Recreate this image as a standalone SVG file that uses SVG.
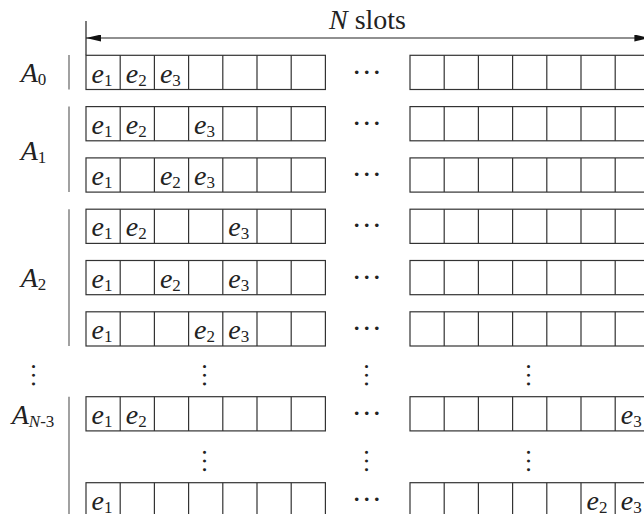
<svg xmlns="http://www.w3.org/2000/svg" xmlns:xlink="http://www.w3.org/1999/xlink" width="644" height="514" viewBox="0 0 644 514" font-family="'Liberation Serif', Tinos, 'Times New Roman', serif">
  <style>
    .cell { fill: none; stroke: #333; stroke-width: 1.2; }
    .bar { fill: none; stroke: #555; stroke-width: 1.1; }
    .dim { fill: none; stroke: #222; stroke-width: 1.2; }
    .t { font-family: 'Liberation Serif', Tinos, 'Times New Roman', serif; fill: #222; }
    .e { font-size: 28px; font-style: italic; }
    .lab { font-size: 28px; font-style: italic; text-anchor: middle; }
    .sub { font-size: 17px; font-style: normal; }
    .subi { font-size: 17px; font-style: italic; }
    .dots { font-size: 30px; text-anchor: middle; }
    .vdots { font-size: 26px; text-anchor: middle; }
    .title { font-size: 28px; text-anchor: middle; }
  </style>
  <defs>
    <!-- a strip of seven square slots, 34.2 px each -->
    <g id="strip">
      <rect class="cell" x="0" y="0" width="239.4" height="34.2"/>
      <path class="cell" d="M34.2,0V34.2M68.4,0V34.2M102.6,0V34.2M136.8,0V34.2M171,0V34.2M205.2,0V34.2"/>
    </g>
    <marker id="head" viewBox="0 0 15 7" markerWidth="15" markerHeight="7" refX="15" refY="3.5" orient="auto-start-reverse" markerUnits="userSpaceOnUse">
      <path d="M0,0L15,3.5L0,7z" fill="#111"/>
    </marker>
  </defs>

  <!-- N slots dimension -->
  <g id="connectors">
    <line class="dim" x1="86" y1="21" x2="86" y2="55.3"/>
    <line class="dim" x1="86" y1="38" x2="649.4" y2="38" marker-start="url(#head)" marker-end="url(#head)"/>
  </g>

  <g class="t">
  <g id="slots-label">
    <text class="title" x="367.5" y="29"><tspan font-style="italic">N</tspan> slots</text>
  </g>

  <!-- group brackets and labels -->
  <g id="label-A0">
    <line class="bar" x1="69" y1="55" x2="69" y2="89.5"/>
    <text class="lab" x="33.5" y="82">A<tspan class="sub" dy="3">0</tspan></text>
  </g>
  <g id="label-A1">
    <line class="bar" x1="69" y1="106.6" x2="69" y2="192"/>
    <text class="lab" x="33.5" y="160">A<tspan class="sub" dy="3">1</tspan></text>
  </g>
  <g id="label-A2">
    <line class="bar" x1="69" y1="209.2" x2="69" y2="346"/>
    <text class="lab" x="33.5" y="287">A<tspan class="sub" dy="3">2</tspan></text>
  </g>
  <g id="label-AN3">
    <line class="bar" x1="69" y1="396.7" x2="69" y2="520"/>
    <text class="lab" x="33" y="424">A<tspan class="subi" dy="3">N</tspan><tspan class="sub">-3</tspan></text>
  </g>

  <!-- row 0 -->
  <g id="row0">
    <use xlink:href="#strip" x="86" y="55.3"/>
    <use xlink:href="#strip" x="410" y="55.3"/>
    <text class="e" x="91.5" y="82.5">e<tspan class="sub" dy="3">1</tspan></text>
    <text class="e" x="125.7" y="82.5">e<tspan class="sub" dy="3">2</tspan></text>
    <text class="e" x="159.9" y="82.5">e<tspan class="sub" dy="3">3</tspan></text>
    <text class="dots" x="366.7" y="73.5">…</text>
  </g>
  <!-- row 1 -->
  <g id="row1">
    <use xlink:href="#strip" x="86" y="106.6"/>
    <use xlink:href="#strip" x="410" y="106.6"/>
    <text class="e" x="91.5" y="133.8">e<tspan class="sub" dy="3">1</tspan></text>
    <text class="e" x="125.7" y="133.8">e<tspan class="sub" dy="3">2</tspan></text>
    <text class="e" x="194.1" y="133.8">e<tspan class="sub" dy="3">3</tspan></text>
    <text class="dots" x="366.7" y="124.8">…</text>
  </g>
  <!-- row 2 -->
  <g id="row2">
    <use xlink:href="#strip" x="86" y="157.9"/>
    <use xlink:href="#strip" x="410" y="157.9"/>
    <text class="e" x="91.5" y="185.1">e<tspan class="sub" dy="3">1</tspan></text>
    <text class="e" x="159.9" y="185.1">e<tspan class="sub" dy="3">2</tspan></text>
    <text class="e" x="194.1" y="185.1">e<tspan class="sub" dy="3">3</tspan></text>
    <text class="dots" x="366.7" y="176.1">…</text>
  </g>
  <!-- row 3 -->
  <g id="row3">
    <use xlink:href="#strip" x="86" y="209.2"/>
    <use xlink:href="#strip" x="410" y="209.2"/>
    <text class="e" x="91.5" y="236.4">e<tspan class="sub" dy="3">1</tspan></text>
    <text class="e" x="125.7" y="236.4">e<tspan class="sub" dy="3">2</tspan></text>
    <text class="e" x="228.3" y="236.4">e<tspan class="sub" dy="3">3</tspan></text>
    <text class="dots" x="366.7" y="227.4">…</text>
  </g>
  <!-- row 4 -->
  <g id="row4">
    <use xlink:href="#strip" x="86" y="260.5"/>
    <use xlink:href="#strip" x="410" y="260.5"/>
    <text class="e" x="91.5" y="287.7">e<tspan class="sub" dy="3">1</tspan></text>
    <text class="e" x="159.9" y="287.7">e<tspan class="sub" dy="3">2</tspan></text>
    <text class="e" x="228.3" y="287.7">e<tspan class="sub" dy="3">3</tspan></text>
    <text class="dots" x="366.7" y="278.7">…</text>
  </g>
  <!-- row 5 -->
  <g id="row5">
    <use xlink:href="#strip" x="86" y="311.8"/>
    <use xlink:href="#strip" x="410" y="311.8"/>
    <text class="e" x="91.5" y="339">e<tspan class="sub" dy="3">1</tspan></text>
    <text class="e" x="194.1" y="339">e<tspan class="sub" dy="3">2</tspan></text>
    <text class="e" x="228.3" y="339">e<tspan class="sub" dy="3">3</tspan></text>
    <text class="dots" x="366.7" y="330">…</text>
  </g>

  <!-- vertical ellipses -->
  <g id="vdots">
    <text class="vdots" transform="translate(32,375.3) rotate(90)">…</text>
    <text class="vdots" transform="translate(203,375.3) rotate(90)">…</text>
    <text class="vdots" transform="translate(365,375.3) rotate(90)">…</text>
    <text class="vdots" transform="translate(527,375.3) rotate(90)">…</text>
    <text class="vdots" transform="translate(203,461) rotate(90)">…</text>
    <text class="vdots" transform="translate(365,461) rotate(90)">…</text>
    <text class="vdots" transform="translate(527,461) rotate(90)">…</text>
  </g>

  <!-- row N-3 (first) -->
  <g id="rowN3a">
    <use xlink:href="#strip" x="86" y="396.7"/>
    <use xlink:href="#strip" x="410" y="396.7"/>
    <text class="e" x="91.5" y="423.9">e<tspan class="sub" dy="3">1</tspan></text>
    <text class="e" x="125.7" y="423.9">e<tspan class="sub" dy="3">2</tspan></text>
    <text class="e" x="620.7" y="423.9">e<tspan class="sub" dy="3">3</tspan></text>
    <text class="dots" x="366.7" y="414.9">…</text>
  </g>
  <!-- row N-3 (last) -->
  <g id="rowN3b">
    <use xlink:href="#strip" x="86" y="482.7"/>
    <use xlink:href="#strip" x="410" y="482.7"/>
    <text class="e" x="91.5" y="509.9">e<tspan class="sub" dy="3">1</tspan></text>
    <text class="e" x="586.5" y="509.9">e<tspan class="sub" dy="3">2</tspan></text>
    <text class="e" x="620.7" y="509.9">e<tspan class="sub" dy="3">3</tspan></text>
    <text class="dots" x="366.7" y="500.9">…</text>
  </g>
  </g>
</svg>
